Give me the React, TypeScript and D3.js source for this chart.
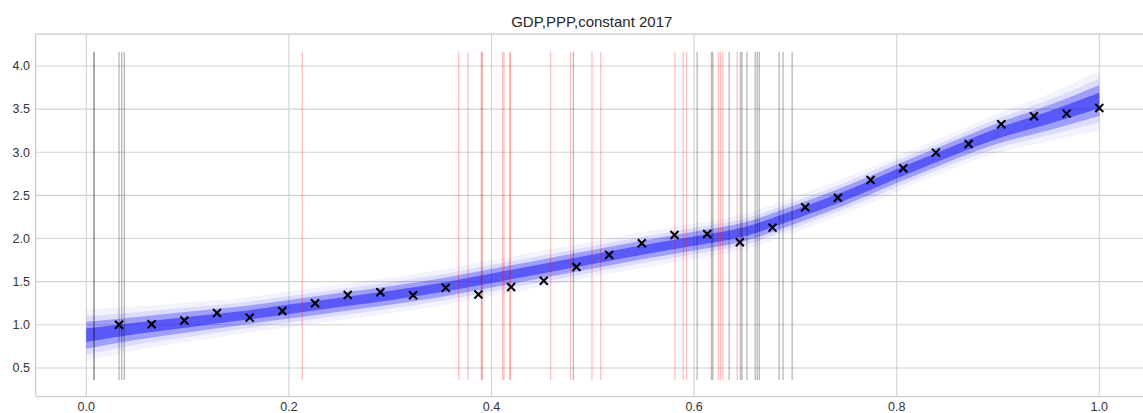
import React from "react";
import * as d3 from "d3";

const W = 1143;
const H = 413;

// observed points (x normalised 1/31 .. 31/31)
const obsIndex = d3.range(1, 32);
const obsValues = [
  1.0, 1.006, 1.05, 1.137, 1.083, 1.16, 1.25, 1.345, 1.377, 1.342,
  1.43, 1.352, 1.438, 1.51, 1.67, 1.81, 1.945, 2.041, 2.053, 1.957,
  2.126, 2.362, 2.473, 2.678, 2.814, 2.995, 3.096, 3.324, 3.417, 3.447, 3.513,
];

// posterior band
const bandX = [0, 0.05, 0.1, 0.15, 0.2, 0.25, 0.3, 0.35, 0.4, 0.45, 0.5, 0.55, 0.6, 0.65, 0.7, 0.75, 0.8, 0.85, 0.9, 0.95, 1.0];
const bandMean = [0.88, 0.96, 1.03, 1.1, 1.18, 1.26, 1.34, 1.43, 1.54, 1.65, 1.76, 1.87, 1.97, 2.08, 2.28, 2.5, 2.75, 2.99, 3.22, 3.4, 3.6];
const bandHalf = [0.13, 0.11, 0.1, 0.09, 0.09, 0.09, 0.09, 0.09, 0.09, 0.09, 0.09, 0.09, 0.09, 0.09, 0.09, 0.09, 0.09, 0.09, 0.1, 0.12, 0.15];

// vertical event lines
const grayLines = [0.0073, 0.0079, 0.0323, 0.035, 0.0375, 0.3901, 0.4809, 0.603, 0.6172, 0.6185, 0.6346, 0.6458, 0.6473, 0.6522, 0.6604, 0.6624, 0.6644, 0.684, 0.6878, 0.6968];
const redLines = [0.2132, 0.3676, 0.3768, 0.3913, 0.4109, 0.4123, 0.4183, 0.4183, 0.4584, 0.4782, 0.4992, 0.5078, 0.5811, 0.5893, 0.5925, 0.6241, 0.626, 0.6283, 0.6426];
const vlineMin = 0.36;
const vlineMax = 4.165;

const xTicks = [0.0, 0.2, 0.4, 0.6, 0.8, 1.0];
const yTicks = [0.5, 1.0, 1.5, 2.0, 2.5, 3.0, 3.5, 4.0];
const title = "GDP,PPP,constant 2017";

const bandLayers = [
  { k: 2.3, op: 0.05 },
  { k: 1.7, op: 0.1 },
  { k: 1.2, op: 0.3 },
  { k: 0.6, op: 0.5 },
];

export default function App() {
  const x = d3.scaleLinear().domain([-0.05, 1.05]).range([35.65, 1149.95]);
  const y = d3.scaleLinear().domain([0.167, 4.37]).range([396.7, 34]);
  const left = x(-0.05);
  const right = x(1.05);
  const top = y(4.37);
  const bottom = y(0.167);
  const font = "'Liberation Sans', Arial, sans-serif";

  const idx = d3.range(bandX.length);
  const makeArea = (k: number) =>
    d3
      .area<number>()
      .x((i) => x(bandX[i]))
      .y0((i) => y(bandMean[i] - k * bandHalf[i]))
      .y1((i) => y(bandMean[i] + k * bandHalf[i]))
      .curve(d3.curveMonotoneX)(idx) || "";

  const cs = 4;
  return (
    <svg width={W} height={H} style={{ position: "absolute", left: 0, top: 0, background: "#fff" }}>
      <rect x={0} y={0} width={W} height={H} fill="#fff" />
      {/* grid */}
      {yTicks.map((t) => (
        <line key={"gy" + t} x1={left} x2={right} y1={y(t)} y2={y(t)} stroke="#d2d2d2" strokeWidth={1.1} />
      ))}
      {xTicks.map((t) => (
        <line key={"gx" + t} x1={x(t)} x2={x(t)} y1={top} y2={bottom} stroke="#d2d2d2" strokeWidth={1.1} />
      ))}
      {/* spines */}
      <line x1={left} x2={left} y1={top} y2={bottom} stroke="#cfcfcf" strokeWidth={1.3} />
      <line x1={left} x2={right} y1={bottom} y2={bottom} stroke="#cfcfcf" strokeWidth={1.3} />
      <line x1={left} x2={right} y1={top} y2={top} stroke="#cfcfcf" strokeWidth={1.3} />
      {/* band */}
      {bandLayers.map((l, i) => (
        <path key={"b" + i} d={makeArea(l.k)} fill="#1414f5" fillOpacity={l.op} />
      ))}
      {/* vlines */}
      {grayLines.map((v, i) => (
        <line key={"g" + i} x1={x(v)} x2={x(v)} y1={y(vlineMin)} y2={y(vlineMax)} stroke="#000" strokeOpacity={0.28} strokeWidth={1.3} />
      ))}
      {redLines.map((v, i) => (
        <line key={"r" + i} x1={x(v)} x2={x(v)} y1={y(vlineMin)} y2={y(vlineMax)} stroke="#ff0000" strokeOpacity={0.25} strokeWidth={1.3} />
      ))}
      {/* observations */}
      {obsIndex.map((n, i) => {
        const cx = x(n / 31);
        const cy = y(obsValues[i]);
        return (
          <path
            key={"o" + i}
            d={`M${cx - cs},${cy - cs}L${cx + cs},${cy + cs}M${cx - cs},${cy + cs}L${cx + cs},${cy - cs}`}
            stroke="#000"
            strokeWidth={2}
            fill="none"
          />
        );
      })}
      {/* tick labels */}
      {yTicks.map((t) => (
        <text key={"ty" + t} x={30} y={y(t)} dy="0.35em" textAnchor="end" fontFamily={font} fontSize={12.5} fill="#333">
          {t.toFixed(1)}
        </text>
      ))}
      {xTicks.map((t) => (
        <text key={"tx" + t} x={x(t)} y={410.5} textAnchor="middle" fontFamily={font} fontSize={12.5} fill="#333">
          {t.toFixed(1)}
        </text>
      ))}
      <text x={(left + right) / 2 - 1} y={26.5} textAnchor="middle" fontFamily={font} fontSize={15} fill="#262626">
        {title}
      </text>
    </svg>
  );
}
